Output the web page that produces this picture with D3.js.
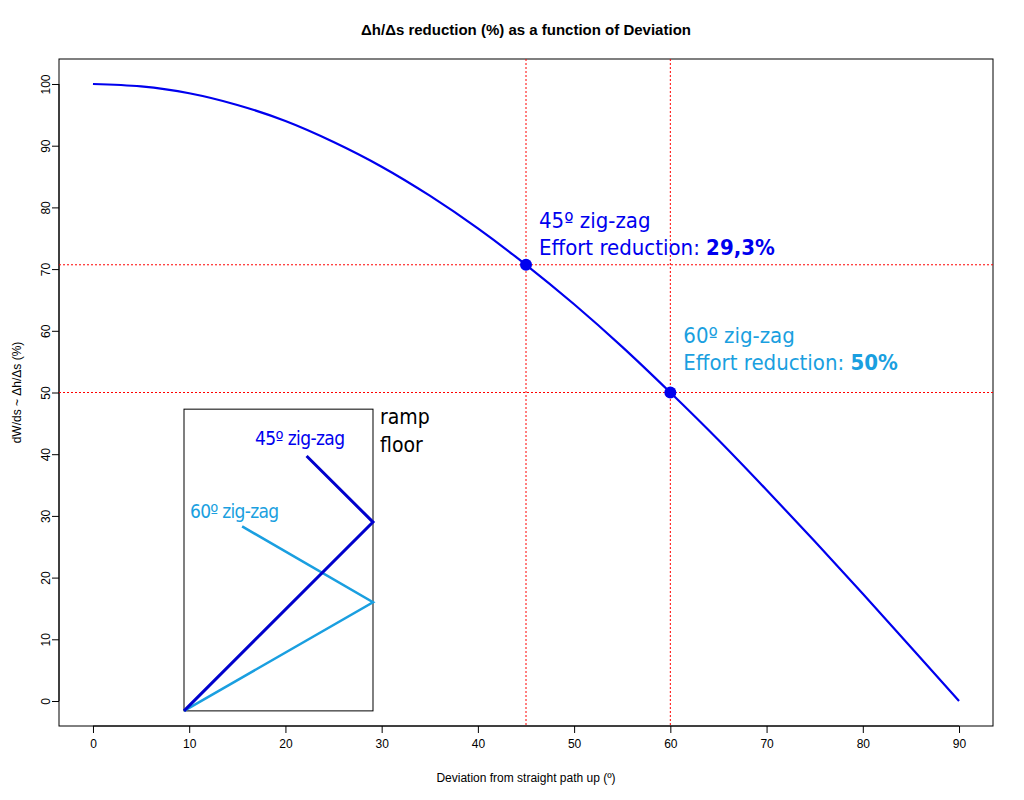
<!DOCTYPE html>
<html>
<head>
<meta charset="utf-8">
<script src="https://d3js.org/d3.v7.min.js"></script>
<style>body{margin:0;background:#fff}</style>
</head>
<body>
<svg id="chart"></svg>
<script>
const width = 1024, height = 800;
// values
const deviation = [0,5,10,15,20,25,30,35,40,45,50,55,60,65,70,75,80,85,90];
const reduction = [100,99.6,98.5,96.6,94,90.6,86.6,81.9,76.6,70.7,64.3,57.4,50,42.3,34.2,25.9,17.4,8.7,0];
const xTicks = [0,10,20,30,40,50,60,70,80,90];
const yTicks = [0,10,20,30,40,50,60,70,80,90,100];
const marks = [{x:45,y:70.7,line1:'45º zig-zag',pre:'Effort reduction: ',val:'29,3%',color:'#0000ee',dy:37},
               {x:60,y:50,line1:'60º zig-zag',pre:'Effort reduction: ',val:'50%',color:'#1a9fe0',dy:50}];
const inset45 = [[9.46,-1.6],[29.1,29],[22.2,39.7]];
const inset60 = [[9.46,-1.6],[29.1,16],[15.5,28.3]];

const svg = d3.select('#chart').attr('width', width).attr('height', height)
  .style('font-family','Liberation Sans, Arial, sans-serif');
const L = 59, R = 993, T = 59, B = 726;
const x = d3.scaleLinear().domain([-3.53, 93.53]).range([L, R]);
const y = d3.scaleLinear().domain([-4.05, 104.05]).range([B, T]);

svg.append('rect').attr('x',L).attr('y',T).attr('width',R-L).attr('height',B-T)
  .attr('fill','none').attr('stroke','#000');

svg.append('g').attr('transform',`translate(0,${B})`)
  .call(d3.axisBottom(x).tickValues(xTicks).tickSize(7).tickPadding(6))
  .call(g=>g.select('.domain').attr('d',`M${x(0)},0H${x(90)}`))
  .selectAll('text').attr('font-size',12).attr('font-family','Liberation Sans, Arial');
svg.append('g').attr('transform',`translate(${L},0)`)
  .call(d3.axisLeft(y).tickValues(yTicks).tickSize(7).tickPadding(6))
  .call(g=>g.select('.domain').attr('d',`M0,${y(0)}V${y(100)}`))
  .selectAll('text').attr('font-size',12).attr('font-family','Liberation Sans, Arial')
  .attr('transform',function(){return `rotate(-90,${d3.select(this).attr('x')||-13},0)`;})
  .attr('text-anchor','middle').attr('dy','0.32em');

svg.append('text').attr('x',526).attr('y',35).attr('text-anchor','middle')
  .attr('font-size',15).attr('font-weight','bold').text('Δh/Δs reduction (%) as a function of Deviation');
svg.append('text').attr('x',(L+R)/2).attr('y',782).attr('text-anchor','middle')
  .attr('font-size',12).text('Deviation from straight path up (º)');
svg.append('text').attr('transform',`translate(21,${(T+B)/2}) rotate(-90)`).attr('text-anchor','middle')
  .attr('font-size',12).text('dW/ds ~ Δh/Δs (%)');

// reference lines
marks.forEach(m=>{
  svg.append('line').attr('x1',x(m.x)).attr('x2',x(m.x)).attr('y1',T).attr('y2',B)
    .attr('stroke','red').attr('stroke-dasharray','2,2');
  svg.append('line').attr('x1',L).attr('x2',R).attr('y1',y(m.y)).attr('y2',y(m.y))
    .attr('stroke','red').attr('stroke-dasharray','2,2');
});

const line = d3.line().x(d=>x(d[0])).y(d=>y(d[1])).curve(d3.curveMonotoneX);
svg.append('path').datum(deviation.map((d,i)=>[d,reduction[i]])).attr('d',line)
  .attr('fill','none').attr('stroke','#0000ee').attr('stroke-width',2.2);

const cond = 'DejaVu Sans Condensed, Noto Sans, sans-serif';
marks.forEach(m=>{
  svg.append('circle').attr('cx',x(m.x)).attr('cy',y(m.y)).attr('r',6).attr('fill','#0000ee');
  const t = svg.append('text').attr('x',x(m.x)+13).attr('y',y(m.y)-m.dy).attr('fill',m.color)
    .attr('font-size',22).attr('font-family',cond);
  t.append('tspan').text(m.line1);
  const t2 = svg.append('text').attr('x',x(m.x)+13).attr('y',y(m.y)-m.dy+27).attr('fill',m.color)
    .attr('font-size',22).attr('font-family',cond);
  t2.append('tspan').text(m.pre);
  t2.append('tspan').attr('font-weight','bold').text(m.val);
});

// inset
svg.append('rect').attr('x',x(9.46)).attr('y',y(47.3)).attr('width',x(29.1)-x(9.46))
  .attr('height',y(-1.6)-y(47.3)).attr('fill','#fff').attr('stroke','#000');
const lin = d3.line().x(d=>x(d[0])).y(d=>y(d[1]));
svg.append('path').attr('d',lin(inset60)).attr('fill','none').attr('stroke','#1a9fe0').attr('stroke-width',2.5);
svg.append('path').attr('d',lin(inset45)).attr('fill','none').attr('stroke','#0000cc').attr('stroke-width',3);
svg.append('text').attr('x',255).attr('y',445).attr('fill','#0000ee').attr('font-size',19)
  .attr('font-family',cond).attr('textLength',90).text('45º zig-zag');
svg.append('text').attr('x',190).attr('y',518).attr('fill','#1a9fe0').attr('font-size',19)
  .attr('font-family',cond).attr('textLength',89).text('60º zig-zag');
svg.append('text').attr('x',380).attr('y',424).attr('font-size',21).attr('font-family',cond).text('ramp');
svg.append('text').attr('x',380).attr('y',452).attr('font-size',21).attr('font-family',cond).text('floor');
</script>
</body>
</html>
